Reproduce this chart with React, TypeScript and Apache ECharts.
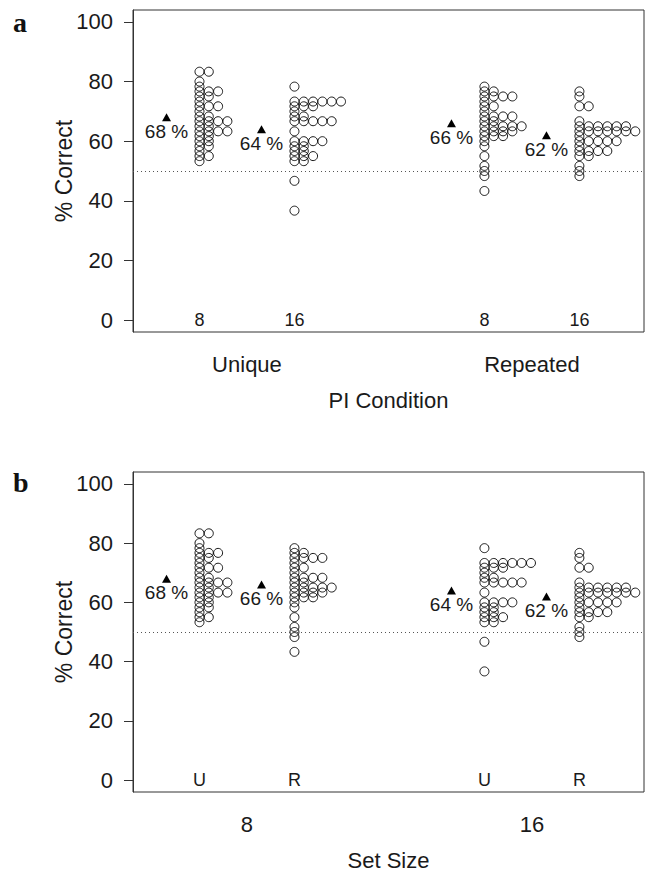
import { useEffect, useRef } from "react";
import * as echarts from "echarts";

// ---------- data ----------
const Y_TICKS = [0, 20, 40, 60, 80, 100];
const CHANCE_LEVEL = 50;

// Unique condition, set size 8
const unique8Values = [83.3, 80, 78.3, 76.7, 75, 73.3, 71.7, 70, 68.3, 66.7, 65, 63.3, 61.7, 60, 58.3, 56.7, 55, 53.3];
const unique8Counts = [2, 1, 1, 3, 2, 1, 3, 1, 2, 4, 2, 4, 2, 2, 2, 1, 2, 1];
// Unique condition, set size 16
const unique16Values = [78.3, 73.3, 71.7, 70, 68.3, 66.7, 63.3, 60, 58.3, 56.7, 55, 53.3, 46.7, 36.7];
const unique16Counts = [1, 6, 3, 1, 2, 5, 1, 4, 2, 2, 3, 2, 1, 1];
// Repeated condition, set size 8
const repeated8Values = [78.3, 76.7, 75, 73.3, 71.7, 70, 68.3, 66.7, 65, 63.3, 61.7, 60, 58.3, 55, 51.7, 50, 48.3, 43.3];
const repeated8Counts = [1, 2, 4, 1, 2, 1, 4, 2, 5, 4, 3, 1, 1, 1, 1, 1, 1, 1];
// Repeated condition, set size 16
const repeated16Values = [76.7, 75, 71.7, 66.7, 65, 63.3, 61.7, 60, 58.3, 56.7, 55, 51.7, 50, 48.3];
const repeated16Counts = [1, 1, 2, 1, 6, 7, 1, 5, 1, 4, 2, 1, 1, 1];

// means (triangles)
const meanUnique8 = 68;
const meanUnique16 = 64;
const meanRepeated8 = 66;
const meanRepeated16 = 62;

// panel a: grouped by PI condition, inner labels = set size
const PANEL_A_GROUPS = ["Unique", "Repeated"];
const PANEL_A_INNER = ["8", "16", "8", "16"];
// panel b: grouped by set size, inner labels = PI condition
const PANEL_B_GROUPS = ["8", "16"];
const PANEL_B_INNER = ["U", "R", "U", "R"];

// ---------- layout ----------
const POSITIONS = [1, 2, 4, 5];
const GROUP_CENTERS = [1.5, 4.5];
const X_MIN = 0.3;
const X_MAX = 5.68;
const STACK_STEP = 0.098;
const MEAN_OFFSET = 0.347;
const FONT = '"Liberation Sans", Arial, Helvetica, sans-serif';
const TEXT = "#1a1a1a";

type Cluster = { values: number[]; counts: number[]; mean: number };

const U8: Cluster = { values: unique8Values, counts: unique8Counts, mean: meanUnique8 };
const U16: Cluster = { values: unique16Values, counts: unique16Counts, mean: meanUnique16 };
const R8: Cluster = { values: repeated8Values, counts: repeated8Counts, mean: meanRepeated8 };
const R16: Cluster = { values: repeated16Values, counts: repeated16Counts, mean: meanRepeated16 };

const PANEL_A_ORDER = [U8, U16, R8, R16];
const PANEL_B_ORDER = [U8, R8, U16, R16];

function stackPoints(clusters: Cluster[]) {
  const pts: number[][] = [];
  clusters.forEach((c, i) => {
    c.values.forEach((v, j) => {
      for (let k = 0; k < c.counts[j]; k++) {
        pts.push([POSITIONS[i] + k * STACK_STEP, v]);
      }
    });
  });
  return pts;
}

function panelSeries(clusters: Cluster[], inner: string[], idx: number) {
  return [
    {
      type: "scatter",
      xAxisIndex: idx,
      yAxisIndex: idx,
      symbol: "circle",
      symbolSize: 9,
      itemStyle: { color: "rgba(0,0,0,0)", borderColor: "#000", borderWidth: 0.9, opacity: 1 },
      data: stackPoints(clusters),
      silent: true,
      markLine: {
        silent: true,
        symbol: "none",
        label: { show: false },
        lineStyle: { type: [1, 3], color: "#555", width: 1 },
        data: [{ yAxis: CHANCE_LEVEL }],
      },
      z: 3,
    },
    {
      type: "scatter",
      xAxisIndex: idx,
      yAxisIndex: idx,
      symbol: "triangle",
      symbolSize: [9, 8],
      itemStyle: { color: "#000", opacity: 1 },
      data: clusters.map((c, i) => ({ name: `${c.mean} %`, value: [POSITIONS[i] - MEAN_OFFSET, c.mean] })),
      label: {
        show: true,
        position: "inside",
        offset: [0, 14],
        formatter: "{b}",
        color: TEXT,
        textBorderWidth: 0,
        fontSize: 19,
        fontFamily: FONT,
      },
      z: 4,
    },
    {
      type: "scatter",
      xAxisIndex: idx,
      yAxisIndex: idx,
      symbolSize: 1,
      itemStyle: { color: "rgba(0,0,0,0)", opacity: 1 },
      data: inner.map((t, i) => ({ name: t, value: [POSITIONS[i], 0] })),
      label: {
        show: true,
        position: "inside",
        formatter: "{b}",
        color: TEXT,
        textBorderWidth: 0,
        fontSize: 18,
        fontFamily: FONT,
      },
      z: 4,
    },
  ];
}

function xAxisFor(idx: number, groups: string[], title: string) {
  return {
    type: "value",
    gridIndex: idx,
    min: X_MIN,
    max: X_MAX,
    axisLine: { show: false },
    axisTick: { show: false },
    splitLine: { show: false },
    axisLabel: {
      customValues: GROUP_CENTERS,
      formatter: (v: number) => groups[GROUP_CENTERS.indexOf(v)] ?? "",
      fontSize: 22,
      fontFamily: FONT,
      color: TEXT,
      margin: 21,
    },
    name: title,
    nameLocation: "middle",
    nameGap: 57,
    nameMoveOverlap: false,
    nameTextStyle: { fontSize: 22, fontFamily: FONT, color: TEXT },
  };
}

function yAxisFor(idx: number) {
  return {
    type: "value",
    gridIndex: idx,
    min: -4,
    max: 104,
    axisLine: { show: true, lineStyle: { color: "#333", width: 1 } },
    axisTick: { show: true, customValues: Y_TICKS, length: 9, lineStyle: { color: "#333" } },
    splitLine: { show: false },
    axisLabel: {
      customValues: Y_TICKS,
      fontSize: 22,
      fontFamily: FONT,
      color: TEXT,
      margin: 20,
    },
    name: "% Correct",
    nameLocation: "middle",
    nameRotate: 90,
    nameGap: 58,
    nameMoveOverlap: false,
    nameTextStyle: { fontSize: 23, fontFamily: FONT, color: TEXT },
  };
}

export default function App() {
  const ref = useRef<HTMLDivElement>(null);
  useEffect(() => {
    document.body.style.margin = "0";
    const chart = echarts.init(ref.current!, null, { renderer: "svg" });
    chart.setOption({
      animation: false,
      backgroundColor: "#fff",
      grid: [
        { left: 133, width: 511, top: 10, height: 322, show: true, borderColor: "#333", borderWidth: 1 },
        { left: 133, width: 511, top: 472, height: 320, show: true, borderColor: "#333", borderWidth: 1 },
      ],
      xAxis: [xAxisFor(0, PANEL_A_GROUPS, "PI Condition"), xAxisFor(1, PANEL_B_GROUPS, "Set Size")],
      yAxis: [yAxisFor(0), yAxisFor(1)],
      series: [...panelSeries(PANEL_A_ORDER, PANEL_A_INNER, 0), ...panelSeries(PANEL_B_ORDER, PANEL_B_INNER, 1)],
      graphic: [
        {
          type: "text",
          left: 13,
          top: 8,
          style: { text: "a", font: 'bold 28px "Liberation Serif", "Times New Roman", serif', fill: "#111" },
        },
        {
          type: "text",
          left: 13,
          top: 468,
          style: { text: "b", font: 'bold 28px "Liberation Serif", "Times New Roman", serif', fill: "#111" },
        },
      ],
    });
    return () => chart.dispose();
  }, []);
  return <div ref={ref} style={{ width: 646, height: 872, position: "fixed", left: 0, top: 0 }} />;
}
